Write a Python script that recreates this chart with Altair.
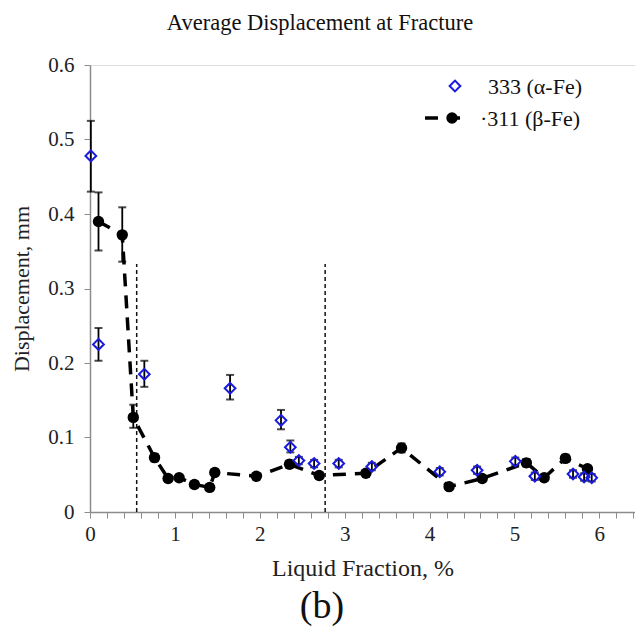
import altair as alt
import pandas as pd

# beta-Fe (311) series
b_x = [0.10, 0.38, 0.51, 0.76, 0.92, 1.05, 1.23, 1.41, 1.47, 1.96, 2.35, 2.70, 3.25, 3.67, 4.23, 4.62, 5.14, 5.35, 5.60, 5.86]
b_y = [0.390, 0.372, 0.127, 0.073, 0.045, 0.046, 0.037, 0.033, 0.053, 0.048, 0.064, 0.049, 0.052, 0.086, 0.034, 0.045, 0.066, 0.046, 0.072, 0.058]
b_lo = [0.351, 0.336, 0.113, 0.068, 0.041, 0.042, 0.033, 0.029, 0.049, 0.044, 0.059, 0.045, 0.048, 0.080, 0.030, 0.041, 0.061, 0.042, 0.067, 0.054]
b_hi = [0.429, 0.409, 0.144, 0.078, 0.049, 0.050, 0.041, 0.037, 0.057, 0.052, 0.069, 0.053, 0.056, 0.092, 0.038, 0.049, 0.071, 0.050, 0.077, 0.062]

# alpha-Fe (333) series
a_x = [0.01, 0.10, 0.64, 1.65, 2.25, 2.36, 2.46, 2.64, 2.93, 3.32, 4.12, 4.56, 5.01, 5.24, 5.69, 5.82, 5.91]
a_y = [0.478, 0.225, 0.185, 0.166, 0.123, 0.087, 0.069, 0.065, 0.065, 0.061, 0.054, 0.056, 0.068, 0.048, 0.051, 0.047, 0.046]
a_lo = [0.430, 0.203, 0.168, 0.151, 0.111, 0.080, 0.064, 0.060, 0.060, 0.056, 0.049, 0.051, 0.063, 0.043, 0.046, 0.042, 0.041]
a_hi = [0.525, 0.247, 0.203, 0.184, 0.137, 0.096, 0.074, 0.070, 0.070, 0.066, 0.059, 0.061, 0.073, 0.053, 0.056, 0.052, 0.051]

# vertical reference lines
v_x = [0.55, 2.77]
v_top = [0.333, 0.333]

x_ticks = [round(i * 0.2, 1) for i in range(0, 33)]
y_ticks = [0, 0.1, 0.2, 0.3, 0.4, 0.5, 0.6]

FONT = "Liberation Serif"
W, H = 545, 447

bdf = pd.DataFrame({"x": b_x, "y": b_y, "lo": b_lo, "hi": b_hi})
adf = pd.DataFrame({"x": a_x, "y": a_y, "lo": a_lo, "hi": a_hi})
vdf = pd.DataFrame({"x": v_x, "top": v_top, "bottom": [0, 0]})

xs = alt.Scale(domain=[0, 6.42], nice=False, zero=False)
ys = alt.Scale(domain=[0, 0.6], nice=False)

xaxis = alt.Axis(
    title="Liquid Fraction, %", values=x_ticks, labelOverlap=False, labelBound=False, labelFlush=False,
    labelExpr="abs(datum.value - round(datum.value)) < 0.01 ? format(round(datum.value), 'd') : ''",
    grid=False, domainColor="#8c8c8c", tickColor="#8c8c8c", tickSize=6, domainWidth=1.5,
    labelFont=FONT, labelFontSize=21, labelColor="#222", labelPadding=5,
    titleFont=FONT, titleFontSize=24, titleFontWeight="normal", titleColor="#222", titlePadding=12,
)
yaxis = alt.Axis(
    title="Displacement, mm", values=y_ticks, labelOverlap=False,
    labelExpr="datum.value == 0 ? '0' : format(datum.value, '.1f')",
    grid=False, domainColor="#8c8c8c", tickColor="#8c8c8c", tickSize=6, domainWidth=1.5,
    labelFont=FONT, labelFontSize=21, labelColor="#222", labelPadding=10,
    titleFont=FONT, titleFontSize=22, titleFontWeight="normal", titleColor="#222", titlePadding=14,
)

def X(f):
    return alt.X(f, type="quantitative", scale=xs, axis=xaxis)

def Y(f):
    return alt.Y(f, type="quantitative", scale=ys, axis=yaxis)

vlines = alt.Chart(vdf).mark_rule(color="#111", strokeWidth=1.5, strokeDash=[4, 3]).encode(
    x=X("x"), y=Y("bottom"), y2="top:Q"
)

line = alt.Chart(bdf).mark_line(color="black", strokeWidth=3.5, strokeDash=[13, 9]).encode(
    x=X("x"), y=Y("y"), order="x:Q"
)

def errs(df):
    r = alt.Chart(df).mark_rule(color="black", strokeWidth=1.8).encode(
        x=X("x"), y=Y("lo"), y2="hi:Q"
    )
    t1 = alt.Chart(df).mark_tick(color="black", thickness=2, size=8, orient="horizontal").encode(
        x=X("x"), y=Y("hi")
    )
    t2 = alt.Chart(df).mark_tick(color="black", thickness=2, size=8, orient="horizontal").encode(
        x=X("x"), y=Y("lo")
    )
    return r + t1 + t2

circles = alt.Chart(bdf).mark_point(shape="circle", filled=True, color="black", size=130, opacity=1).encode(
    x=X("x"), y=Y("y")
)
diamonds = alt.Chart(adf).mark_point(shape="diamond", filled=False, color="#1a1adf", size=115, strokeWidth=2, opacity=1).encode(
    x=X("x"), y=Y("y")
)

one = pd.DataFrame({"k": [0]})
title = alt.Chart(one).mark_text(font=FONT, fontSize=22.5, color="#111", align="center", baseline="alphabetic").encode(
    x=alt.value(230), y=alt.value(-35), text=alt.value("Average Displacement at Fracture")
)
sub = alt.Chart(one).mark_text(font=FONT, fontSize=38, color="#111", align="center", baseline="alphabetic").encode(
    x=alt.value(232), y=alt.value(553), text=alt.value("(b)")
)
leg_d = alt.Chart(one).mark_point(shape="diamond", filled=False, color="#1a1adf", size=115, strokeWidth=2, opacity=1).encode(
    x=alt.value(365), y=alt.value(21)
)
leg_t1 = alt.Chart(one).mark_text(font=FONT, fontSize=22, color="#111", align="left", baseline="middle").encode(
    x=alt.value(398), y=alt.value(22), text=alt.value("333 (α-Fe)")
)
leg_l = alt.Chart(one).mark_rule(color="black", strokeWidth=3.5, strokeDash=[13, 9]).encode(
    x=alt.value(335), x2=alt.value(378), y=alt.value(53)
)
leg_c = alt.Chart(one).mark_point(shape="circle", filled=True, color="black", size=130, opacity=1).encode(
    x=alt.value(362), y=alt.value(53)
)
leg_t2 = alt.Chart(one).mark_text(font=FONT, fontSize=22, color="#111", align="left", baseline="middle").encode(
    x=alt.value(390), y=alt.value(54), text=alt.value("·311 (β-Fe)")
)

chart = alt.layer(
    vlines, line, errs(bdf), circles, errs(adf), diamonds,
    title, sub, leg_d, leg_t1, leg_l, leg_c, leg_t2
).properties(
    width=W, height=H,
    autosize=alt.AutoSizeParams(type="none"),
    padding={"left": 90, "top": 65, "right": 0, "bottom": 123},
).configure_view(stroke=None).configure_axis(labelOverlap=False).configure(background="white")

chart.save("out.html", embed_options={"renderer": "svg", "actions": False})
